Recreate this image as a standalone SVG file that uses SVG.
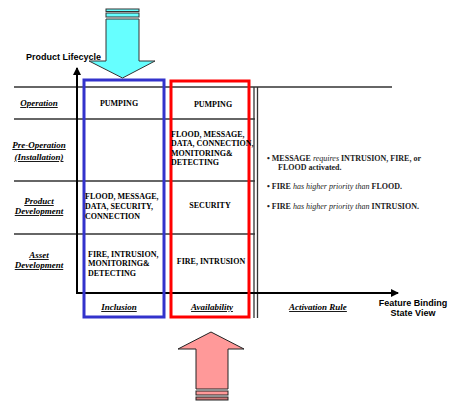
<svg xmlns="http://www.w3.org/2000/svg" width="449" height="401" viewBox="0 0 449 401">
<defs>
<marker id="ah" markerWidth="8" markerHeight="8" refX="7" refY="4" orient="auto" markerUnits="userSpaceOnUse">
<path d="M0,0 L8,4 L0,8 Z" fill="#000"/>
</marker>
<style>
.row{stroke:#333;stroke-width:1.3;fill:none}
.axis{stroke:#000;stroke-width:2;fill:none}
.lbl{font-family:"Liberation Serif",serif;font-size:9px;font-weight:bold;font-style:italic;text-decoration:underline;text-anchor:middle;fill:#000}
.cell{font-family:"Liberation Serif",serif;font-size:8px;font-weight:bold;fill:#000}
.mid{text-anchor:middle}
.rule{font-family:"Liberation Serif",serif;font-size:8px;font-weight:bold;fill:#222}
.it{font-weight:normal;font-style:italic}
.sans{font-family:"Liberation Sans",Arial,sans-serif;font-size:9px;font-weight:bold;fill:#000}
</style>
</defs>
<rect width="449" height="401" fill="#fff"/>

<!-- table rows and axes -->
<g id="connectors">
<line class="row" x1="14" y1="87" x2="392" y2="87"/>
<line class="row" x1="14" y1="119" x2="255" y2="119"/>
<line class="row" x1="14" y1="181" x2="255" y2="181"/>
<line class="row" x1="14" y1="234" x2="255" y2="234"/>
<line class="row" x1="254" y1="87" x2="254" y2="318"/>
<line class="row" x1="257.5" y1="87" x2="257.5" y2="318"/>
<line class="axis" x1="77" y1="293" x2="77" y2="68" marker-end="url(#ah)"/>
<line class="axis" x1="76" y1="293" x2="398" y2="293" marker-end="url(#ah)"/>
</g>

<g id="axis-labels">
<text class="sans" x="26" y="60">Product Lifecycle</text>
<text class="sans" x="413" y="306" text-anchor="middle">Feature Binding</text>
<text class="sans" x="413" y="316" text-anchor="middle">State View</text>
</g>

<g id="row-labels">
<text class="lbl" x="39" y="106">Operation</text>
<text class="lbl" x="39" y="148">Pre-Operation</text>
<text class="lbl" x="39" y="160">(Installation)</text>
<text class="lbl" x="39" y="204">Product</text>
<text class="lbl" x="39" y="214">Development</text>
<text class="lbl" x="39" y="258">Asset</text>
<text class="lbl" x="39" y="268">Development</text>
</g>

<!-- Inclusion column -->
<g id="inclusion">
<rect x="84" y="80" width="80" height="237" fill="none" stroke="#3333cc" stroke-width="3"/>
<text class="cell mid" x="119" y="106">PUMPING</text>
<text class="cell" x="85" y="199">FLOOD, MESSAGE,</text>
<text class="cell" x="85" y="209">DATA, SECURITY,</text>
<text class="cell" x="85" y="219">CONNECTION</text>
<text class="cell" x="88" y="257">FIRE, INTRUSION,</text>
<text class="cell" x="88" y="266">MONITORING&amp;</text>
<text class="cell" x="88" y="276">DETECTING</text>
<text class="lbl" x="119" y="310">Inclusion</text>
</g>

<!-- Availability column -->
<g id="availability">
<rect x="171" y="81" width="78" height="236" fill="none" stroke="#ff0000" stroke-width="3"/>
<text class="cell mid" x="213" y="107">PUMPING</text>
<text class="cell" x="171" y="137">FLOOD, MESSAGE,</text>
<text class="cell" x="171" y="146">DATA, CONNECTION,</text>
<text class="cell" x="171" y="156">MONITORING&amp;</text>
<text class="cell" x="171" y="165">DETECTING</text>
<text class="cell mid" x="210" y="208">SECURITY</text>
<text class="cell mid" x="211" y="264">FIRE, INTRUSION</text>
<text class="lbl" x="212" y="310">Availability</text>
</g>

<!-- Activation rules -->
<g id="activation-rule">
<text class="rule" x="267" y="161">• MESSAGE <tspan class="it">requires</tspan> INTRUSION, FIRE, or</text>
<text class="rule" x="278" y="170">FLOOD activated.</text>
<text class="rule" x="267" y="189">• FIRE <tspan class="it">has higher priority than</tspan> FLOOD.</text>
<text class="rule" x="267" y="209">• FIRE <tspan class="it">has higher priority than</tspan> INTRUSION.</text>
<text class="lbl" x="318" y="310">Activation Rule</text>
</g>

<!-- downward cyan arrow -->
<g id="arrow-down" stroke="#333" stroke-width="1" fill="#66ffff">
<rect x="106" y="9" width="33" height="2.5"/>
<rect x="106" y="13" width="33" height="4"/>
<path d="M106,19 L139,19 L139,61 L155,61 L122.5,78 L89,61 L106,61 Z"/>
</g>

<!-- upward pink arrow -->
<g id="arrow-up" stroke="#222" stroke-width="1" fill="#ff9999">
<path d="M196,389 L228,389 L228,349 L244,349 L211,332 L178,349 L196,349 Z"/>
<rect x="196" y="391" width="32" height="4"/>
<rect x="196" y="397" width="32" height="3" fill="#cc7777"/>
</g>
</svg>
